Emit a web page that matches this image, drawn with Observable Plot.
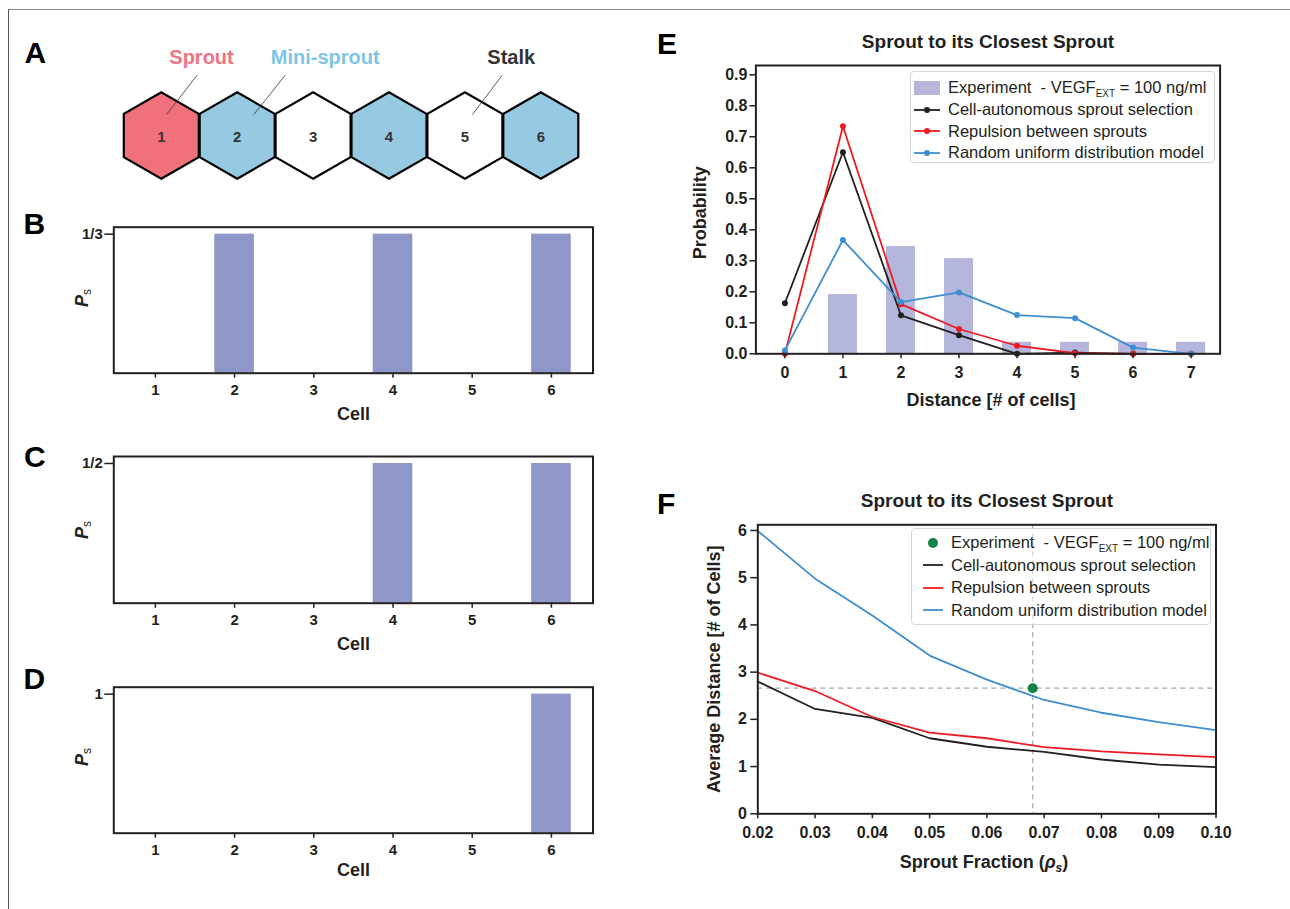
<!DOCTYPE html>
<html>
<head>
<meta charset="utf-8">
<script src="https://cdn.jsdelivr.net/npm/d3@7"></script>
<script src="https://cdn.jsdelivr.net/npm/@observablehq/plot@0.6"></script>
<style>
  body { margin: 0; background: #fff; }
  #fig { position: relative; width: 1290px; height: 909px; overflow: hidden; background: #fff;
         font-family: "Liberation Sans", Arial, Helvetica, sans-serif; color: #231f20; }
  .letter { position: absolute; font-size: 30px; font-weight: bold; line-height: 1; color: #000; }
  .hline { position: absolute; background: #8a8a8a; }
  .vlab { position: absolute; font-weight: bold; font-size: 18px; white-space: nowrap;
          transform: translate(-50%, -50%) rotate(-90deg); line-height: 1; }
  .hlab { position: absolute; font-weight: bold; font-size: 18px; white-space: nowrap;
          transform: translate(-50%, -50%); line-height: 1; }
  .legend { position: absolute; box-sizing: border-box; border: 1px solid #d6d6d6; border-radius: 4px;
            background: rgba(255,255,255,0.55); font-size: 16.5px; }
  .legend .row { display: flex; align-items: center; white-space: pre; }
  .legend svg { flex: none; }
  sub.s { font-size: 10px; vertical-align: -4px; line-height: 0; }
</style>
</head>
<body>
<div id="fig"></div>
<script>
// ---------------- data ----------------
// Panel A
const hexCells = [1, 2, 3, 4, 5, 6];
const hexTypes = ["Sprout", "Mini-sprout", "Stalk", "Mini-sprout", "Stalk", "Mini-sprout"];
const typeNames = ["Sprout", "Mini-sprout", "Stalk"];
const typeFill = ["#f0717c", "#96c9e2", "#ffffff"];
const typeTextColor = ["#f07480", "#7ec5e6", "#333333"];
const typeLabelX = [1.53, 3.16, 5.61];      // in cell units
const leaderTopX = [1.47, 2.63, 5.49];
const leaderBottomX = [1.07, 2.22, 5.10];
const leaderTopY = [0.77, 0.77, 0.77];
const leaderBottomY = [0.27, 0.27, 0.27];

// Panels B, C, D
const cells = [1, 2, 3, 4, 5, 6];
const probB = [0, 1/3, 0, 1/3, 0, 1/3];
const probC = [0, 0, 0, 1/2, 0, 1/2];
const probD = [0, 0, 0, 0, 0, 1];
const ticksB = [1/3], tickLabelsB = ["1/3"];
const ticksC = [1/2], tickLabelsC = ["1/2"];
const ticksD = [1], tickLabelsD = ["1"];

// Panel E
const distances = [0, 1, 2, 3, 4, 5, 6, 7];
const expDistances = [1, 2, 3, 4, 5, 6, 7];
const expProb = [0.191, 0.346, 0.307, 0.037, 0.037, 0.037, 0.037];
const cellAutoProb = [0.163, 0.650, 0.124, 0.060, 0.000, 0.004, 0.000, 0.000];
const repulsionProb = [0.000, 0.734, 0.160, 0.080, 0.026, 0.002, 0.000, 0.000];
const randomProb = [0.011, 0.367, 0.167, 0.198, 0.125, 0.115, 0.020, 0.000];
const probTicks = [0, 0.1, 0.2, 0.3, 0.4, 0.5, 0.6, 0.7, 0.8, 0.9];

// Panel F
const fractions = [0.02, 0.03, 0.04, 0.05, 0.06, 0.07, 0.08, 0.09, 0.10];
const cellAutoDist = [2.80, 2.22, 2.03, 1.60, 1.42, 1.31, 1.15, 1.04, 0.99];
const repulsionDist = [2.99, 2.60, 2.05, 1.72, 1.60, 1.41, 1.32, 1.26, 1.20];
const randomDist = [5.99, 4.98, 4.20, 3.35, 2.84, 2.41, 2.14, 1.94, 1.77];
const expFraction = [0.068];
const expDistance = [2.66];
const distTicks = [0, 1, 2, 3, 4, 5, 6];

const seriesNames = ["Cell-autonomous sprout selection", "Repulsion between sprouts", "Random uniform distribution model"];
const seriesColors = ["#231f20", "#ed1c24", "#3d8fd1"];

// ---------------- helpers ----------------
const fig = document.getElementById("fig");
const FONT = '"Liberation Sans", Arial, Helvetica, sans-serif';
const INK = "#231f20";
function place(node, left, top) {
  node.style.position = "absolute";
  node.style.left = left + "px";
  node.style.top = top + "px";
  fig.appendChild(node);
  return node;
}
function html(str, left, top, cls) {
  const d = document.createElement("div");
  d.className = cls;
  d.innerHTML = str;
  d.style.left = left + "px";
  d.style.top = top + "px";
  fig.appendChild(d);
  return d;
}
function styleFor(size) {
  return {fontFamily: FONT, fontSize: size + "px", fontWeight: "bold", color: INK, background: "transparent", overflow: "visible"};
}

// border lines of the figure box
const topLine = document.createElement("div"); topLine.className = "hline";
Object.assign(topLine.style, {left: "7.5px", top: "8.5px", width: "1290px", height: "1.5px"});
fig.appendChild(topLine);
const leftLine = document.createElement("div"); leftLine.className = "hline";
Object.assign(leftLine.style, {left: "7.5px", top: "8.5px", width: "1.5px", height: "905px", background: "#555"});
fig.appendChild(leftLine);

// ---------------- Panel A ----------------
const leaders = typeNames.map((t, i) => ({x1: leaderTopX[i], y1: leaderTopY[i], x2: leaderBottomX[i], y2: leaderBottomY[i]}));
const plotA = Plot.plot({
  width: 620, height: 170,
  marginLeft: 160.8, marginRight: 79.7, marginTop: 27, marginBottom: 65,
  style: styleFor(15),
  x: {domain: [1, 6], axis: null},
  y: {domain: [0, 1], axis: null},
  color: {domain: typeNames, range: typeFill},
  marks: [
    Plot.dot(hexCells, {x: d => d, y: () => 0, symbol: "hexagon", r: 37.5,
      fill: (d, i) => hexTypes[i], stroke: "#000", strokeWidth: 2.2}),
    Plot.text(hexCells, {x: d => d, y: () => 0, text: d => String(d), dy: 2,
      fontSize: 15, fontWeight: "bold", fill: "#333"}),
    Plot.link(leaders, {x1: "x1", y1: "y1", x2: "x2", y2: "y2", stroke: "#333", strokeWidth: 0.8}),
    ...typeNames.map((t, i) => Plot.text([t], {x: [typeLabelX[i]], y: [1], text: d => d,
      fontSize: 20, fontWeight: "bold", fill: typeTextColor[i]}))
  ]
});
place(plotA, 0, 30);

// ---------------- Panels B, C, D ----------------
function cellPanel(probs, tickVals, tickLabs, top, height, marginTop, marginBottom, cellDy) {
  const yMax = d3.max(probs) * 1.05;
  return place(Plot.plot({
    width: 620, height,
    marginLeft: 113.3, marginRight: 27.5, marginTop, marginBottom,
    style: styleFor(15),
    x: {domain: [0.475, 6.525]},
    y: {domain: [0, yMax]},
    marks: [
      Plot.rect(cells, {x1: d => d - 0.25, x2: d => d + 0.25, y1: () => 0, y2: (d, i) => probs[i], fill: "#8f96c8"}),
      Plot.frame({stroke: INK, strokeWidth: 2}),
      Plot.axisX({ticks: cells, tickFormat: d => String(d), tickSize: 5, tickPadding: 6,
        strokeWidth: 1.5, label: null}),
      Plot.axisY({ticks: tickVals, tickFormat: d => tickLabs[tickVals.indexOf(d)], tickSize: 9, tickPadding: 2,
        strokeWidth: 1.5, label: null}),
      Plot.text(["Cell"], {text: d => d, frameAnchor: "bottom", lineAnchor: "middle", dy: cellDy, fontSize: 18, fontWeight: "bold"})
    ]
  }), 0, top);
}
cellPanel(probB, ticksB, tickLabelsB, 200, 230, 26.7, 57.3, 40.6);
cellPanel(probC, ticksC, tickLabelsC, 430, 230, 26, 57.3, 40.6);
cellPanel(probD, ticksD, tickLabelsD, 660, 240, 26.7, 67.3, 37.5);

// P_s labels
html('<i>P</i><sub class="s" style="font-weight:normal;font-size:12px;vertical-align:-3px">s</sub>', 82, 298, "vlab");
html('<i>P</i><sub class="s" style="font-weight:normal;font-size:12px;vertical-align:-3px">s</sub>', 82, 530, "vlab");
html('<i>P</i><sub class="s" style="font-weight:normal;font-size:12px;vertical-align:-3px">s</sub>', 82, 757, "vlab");

// ---------------- Panel E ----------------
const probSeries = [cellAutoProb, repulsionProb, randomProb];
const plotE = Plot.plot({
  width: 620, height: 400,
  marginLeft: 115.4, marginRight: 40.4, marginTop: 45, marginBottom: 66.7,
  style: styleFor(16),
  x: {domain: [-0.5, 7.5]},
  y: {domain: [0, 0.93]},
  marks: [
    Plot.rect(expDistances, {x1: d => d - 0.25, x2: d => d + 0.25, y1: () => 0, y2: (d, i) => expProb[i], fill: "#b4b6dc"}),
    ...probSeries.flatMap((s, k) => [
      Plot.line(distances, {x: d => d, y: (d, i) => s[i], stroke: seriesColors[k], strokeWidth: 1.8}),
      Plot.dot(distances, {x: d => d, y: (d, i) => s[i], fill: seriesColors[k], r: 3})
    ]),
    Plot.frame({stroke: INK, strokeWidth: 2}),
    Plot.axisX({ticks: distances, tickFormat: d => String(d), tickSize: 5, tickPadding: 8,
      strokeWidth: 1.5, label: null}),
    Plot.axisY({ticks: probTicks, tickFormat: d3.format(".1f"), tickSize: 6, tickPadding: 2.5,
      strokeWidth: 1.5, label: null}),
    Plot.text(["Sprout to its Closest Sprout"], {text: d => d, frameAnchor: "top", lineAnchor: "middle", dy: -24, fontSize: 19, fontWeight: "bold"}),
    Plot.text(["Distance [# of cells]"], {text: d => d, frameAnchor: "bottom", lineAnchor: "middle", dy: 46.7, dx: 3, fontSize: 18, fontWeight: "bold"}),
    Plot.text(["Probability"], {text: d => d, frameAnchor: "left", textAnchor: "middle", lineAnchor: "middle", dx: -55.4, dy: 3, rotate: -90, fontSize: 18, fontWeight: "bold"})
  ]
});
place(plotE, 640, 20);

// ---------------- Panel F ----------------
const distSeries = [cellAutoDist, repulsionDist, randomDist];
const plotF = Plot.plot({
  width: 620, height: 430,
  marginLeft: 117.3, marginRight: 44.5, marginTop: 54.3, marginBottom: 86.7,
  style: styleFor(16),
  x: {domain: [0.02, 0.10]},
  y: {domain: [0, 6.12]},
  marks: [
    Plot.ruleX(expFraction, {x: d => d, stroke: "#a6a6a6", strokeWidth: 1.2, strokeDasharray: "5,4"}),
    Plot.ruleY(expDistance, {y: d => d, stroke: "#a6a6a6", strokeWidth: 1.2, strokeDasharray: "5,4"}),
    ...distSeries.map((s, k) =>
      Plot.line(fractions, {x: d => d, y: (d, i) => s[i], stroke: seriesColors[k], strokeWidth: 1.8})),
    Plot.dot(expFraction, {x: d => d, y: (d, i) => expDistance[i], r: 5, fill: "#12844a"}),
    Plot.frame({stroke: INK, strokeWidth: 2}),
    Plot.axisX({ticks: fractions, tickFormat: d3.format(".2f"), tickSize: 5, tickPadding: 8,
      strokeWidth: 1.5, label: null}),
    Plot.axisY({ticks: distTicks, tickFormat: d => String(d), tickSize: 7, tickPadding: 4,
      strokeWidth: 1.5, label: null}),
    Plot.text(["Sprout to its Closest Sprout"], {text: d => d, frameAnchor: "top", lineAnchor: "middle", dy: -24.3, fontSize: 19, fontWeight: "bold"}),
    Plot.text(["Average Distance [# of Cells]"], {text: d => d, frameAnchor: "left", textAnchor: "middle", lineAnchor: "middle", dx: -44, rotate: -90, fontSize: 18, fontWeight: "bold"})
  ]
});
place(plotF, 640, 470);

html('Sprout Fraction (<i>ρ</i><sub class="s" style="font-size:12px;vertical-align:-4px"><i>s</i></sub>)', 984, 862, "hlab");

// ---------------- Legends ----------------
function lineSwatch(color, withDot, w, h, x0, x1) {
  return `<svg width="${w}" height="${h}"><line x1="${x0}" x2="${x1}" y1="${h/2}" y2="${h/2}" stroke="${color}" stroke-width="1.8"/>` +
    (withDot ? `<circle cx="${(x0 + x1) / 2}" cy="${h/2}" r="3" fill="${color}"/>` : ``) + `</svg>`;
}
const expLabel = 'Experiment  - VEGF<sub class="s">EXT</sub> = 100 ng/ml';

// Legend E
const legE = document.createElement("div");
legE.className = "legend";
Object.assign(legE.style, {left: "910px", top: "71px", width: "305px", height: "92px", paddingTop: "5px"});
let rowsE = `<div class="row" style="height:21.7px"><svg width="37" height="16"><rect x="3" y="1" width="26" height="14" fill="#b4b6dc"/></svg><span>${expLabel}</span></div>`;
seriesNames.forEach((n, k) => {
  rowsE += `<div class="row" style="height:21.7px">${lineSwatch(seriesColors[k], true, 37, 16, 3, 29)}<span>${n}</span></div>`;
});
legE.innerHTML = rowsE;
fig.appendChild(legE);

// Legend F
const legF = document.createElement("div");
legF.className = "legend";
Object.assign(legF.style, {left: "911px", top: "528px", width: "300px", height: "97px", paddingTop: "2.5px"});
let rowsF = `<div class="row" style="height:22.5px"><svg width="39" height="16"><circle cx="21" cy="8" r="5" fill="#12844a"/></svg><span>${expLabel}</span></div>`;
seriesNames.forEach((n, k) => {
  rowsF += `<div class="row" style="height:22.5px">${lineSwatch(seriesColors[k], false, 39, 16, 11, 31)}<span>${n}</span></div>`;
});
legF.innerHTML = rowsF;
fig.appendChild(legF);

// ---------------- Panel letters ----------------
html("A", 24.5, 37.8, "letter");
html("B", 23.5, 209, "letter");
html("C", 24, 442, "letter");
html("D", 23.5, 664, "letter");
html("E", 657, 29, "letter");
html("F", 657, 489, "letter");
</script>
</body>
</html>
